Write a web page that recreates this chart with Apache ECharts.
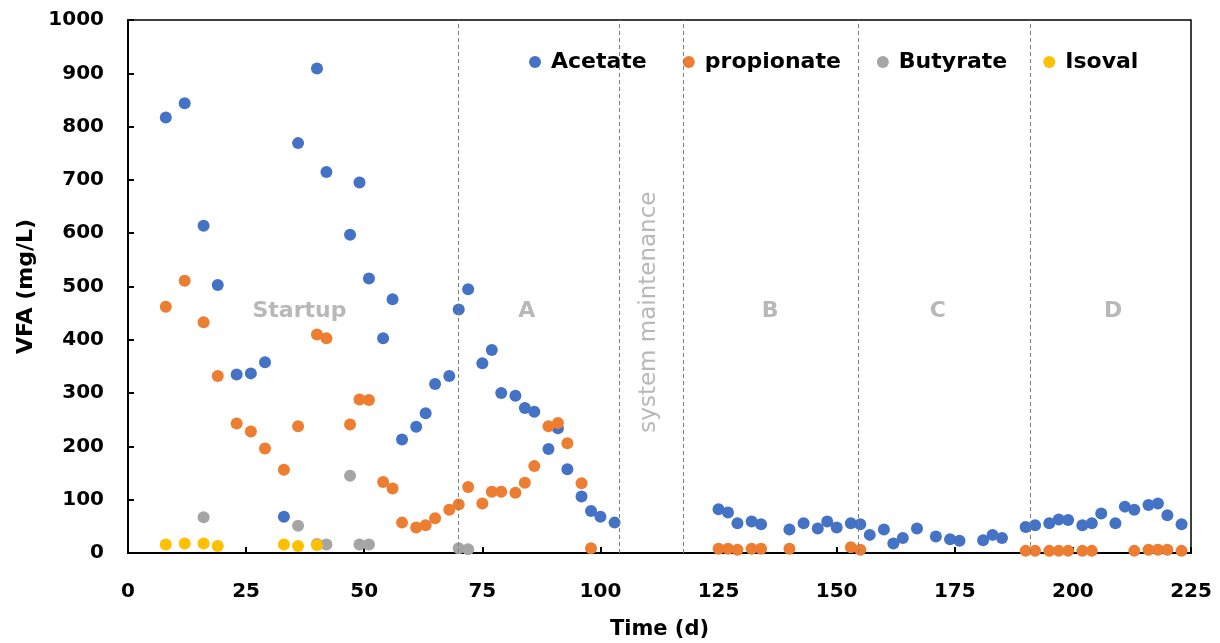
<!DOCTYPE html>
<html>
<head>
<meta charset="utf-8">
<title>VFA over time</title>
<script src="https://cdn.jsdelivr.net/npm/echarts@6/dist/echarts.min.js"></script>
<style>
  html, body { margin: 0; padding: 0; background: #ffffff; }
  #chart { width: 1220px; height: 643px; }
</style>
</head>
<body>
<div id="chart"></div>
<script>
// Sampling days (d) and concentrations (mg/L) per acid
const acetateDays = [8, 12, 16, 19, 23, 26, 29, 33, 36, 40, 42, 47, 49, 51, 54, 56, 58, 61, 63, 65, 68, 70, 72, 75, 77, 79, 82, 84, 86, 89, 91, 93, 96, 98, 100, 103,
  125, 127, 129, 132, 134, 140, 143, 146, 148, 150, 153, 155, 157, 160, 162, 164, 167, 171, 174, 176, 181, 183, 185,
  190, 192, 195, 197, 199, 202, 204, 206, 209, 211, 213, 216, 218, 220, 223];
const acetate = [817, 844, 614, 503, 335, 337, 358, 68, 769, 909, 715, 597, 695, 515, 403, 476, 213, 237, 262, 317, 332, 457, 495, 356, 381, 300, 295, 272, 265, 195, 234, 157, 106, 79, 68, 57,
  82, 76, 56, 59, 54, 44, 56, 46, 59, 48, 56, 54, 34, 44, 18, 28, 46, 31, 26, 23, 24, 34, 28,
  49, 52, 56, 63, 62, 52, 56, 74, 56, 87, 81, 90, 93, 71, 54];

const propionateDays = [8, 12, 16, 19, 23, 26, 29, 33, 36, 40, 42, 47, 49, 51, 54, 56, 58, 61, 63, 65, 68, 70, 72, 75, 77, 79, 82, 84, 86, 89, 91, 93, 96, 98,
  125, 127, 129, 132, 134, 140, 153, 155,
  190, 192, 195, 197, 199, 202, 204, 213, 216, 218, 220, 223];
const propionate = [462, 511, 433, 332, 243, 228, 196, 156, 238, 410, 403, 241, 288, 287, 133, 121, 57, 48, 52, 65, 81, 91, 124, 93, 115, 115, 113, 132, 163, 238, 244, 206, 131, 9,
  8, 8, 6, 8, 8, 8, 11, 6,
  4, 4, 4, 4, 4, 4, 4, 4, 6, 6, 6, 4];

const butyrateDays = [16, 36, 40, 42, 47, 49, 51, 70, 72];
const butyrate = [67, 51, 17, 16, 145, 16, 16, 9, 7];

const isovalDays = [8, 12, 16, 19, 33, 36, 40];
const isoval = [16, 18, 18, 13, 16, 13, 15];

// Operating phase boundaries (d)
const phaseBounds = [70, 104, 117.5, 154.5, 191];

// Phase captions and where they sit (day, mg/L)
const phaseNames = ['Startup', 'A', 'system maintenance', 'B', 'C', 'D'];
const phaseDay = [36.3, 84.4, 110.2, 135.9, 171.4, 208.5];
const phaseLevel = [454, 454, 452, 454, 454, 454];

const seriesColors = ['#4472C4', '#ED7D31', '#A5A5A5', '#FFC000'];
const boldFont = 'DejaVu Sans';

function pairs(xs, ys) {
  return xs.map((x, i) => [x, ys[i]]);
}

function dots(name, xs, ys, color) {
  return {
    name: name,
    type: 'scatter',
    data: pairs(xs, ys),
    symbol: 'circle',
    symbolSize: 12,
    itemStyle: { color: color, opacity: 1 },
    emphasis: { disabled: true },
    z: 3
  };
}

const chart = echarts.init(document.getElementById('chart'), null, { renderer: 'canvas' });

const phaseLabels = {
  name: 'phases',
  type: 'scatter',
  silent: true,
  symbolSize: 0,
  data: phaseNames.map((n, i) => ({
    value: [phaseDay[i], phaseLevel[i]],
    name: n,
    label: n === 'system maintenance'
      ? { rotate: 90, fontWeight: 'normal', fontSize: 23 }
      : {}
  })),
  label: {
    show: true,
    position: 'inside',
    formatter: p => p.name,
    color: '#a6a6a6',
    fontFamily: boldFont,
    fontWeight: 'bold',
    fontSize: 22
  },
  markLine: {
    silent: true,
    symbol: ['none', 'none'],
    label: { show: false },
    lineStyle: { color: '#7f7f7f', type: [4, 3], width: 1 },
    data: phaseBounds.map(d => ({ xAxis: d }))
  },
  z: 1
};

chart.setOption({
  backgroundColor: '#ffffff',
  animation: false,
  grid: {
    left: 128, right: 29, top: 20, bottom: 90,
    outerBoundsMode: 'none',
    show: true, borderColor: '#000', borderWidth: 1.5, backgroundColor: 'transparent'
  },
  legend: {
    data: ['Acetate', 'propionate', 'Butyrate', 'Isoval'],
    left: 524, top: 46,
    icon: 'circle',
    itemWidth: 22, itemHeight: 12, itemGap: 36,
    textStyle: { fontFamily: boldFont, fontWeight: 'bold', fontSize: 22, color: '#000' },
    selectedMode: false
  },
  xAxis: {
    type: 'value',
    min: 0, max: 225, interval: 25,
    name: 'Time (d)',
    nameLocation: 'middle',
    nameGap: 66,
    nameTextStyle: { fontFamily: boldFont, fontWeight: 'bold', fontSize: 21, color: '#000' },
    axisLine: { show: true, onZero: false, lineStyle: { color: '#000', width: 2 } },
    axisTick: { show: true, inside: true, length: 6, lineStyle: { color: '#000', width: 2 } },
    axisLabel: { margin: 29, fontFamily: boldFont, fontWeight: 'bold', fontSize: 20, color: '#000',
      formatter: v => String(v) },
    splitLine: { show: false }
  },
  yAxis: {
    type: 'value',
    min: 0, max: 1000, interval: 100,
    name: 'VFA (mg/L)',
    nameLocation: 'middle',
    nameGap: 88,
    nameTextStyle: { fontFamily: boldFont, fontWeight: 'bold', fontSize: 22, color: '#000' },
    axisLine: { show: true, lineStyle: { color: '#000', width: 2 } },
    axisTick: { show: true, inside: true, length: 6, lineStyle: { color: '#000', width: 2 } },
    axisLabel: { margin: 24, fontFamily: boldFont, fontWeight: 'bold', fontSize: 20, color: '#000',
      formatter: v => String(v) },
    splitLine: { show: false }
  },
  series: [
    phaseLabels,
    dots('Acetate', acetateDays, acetate, seriesColors[0]),
    dots('propionate', propionateDays, propionate, seriesColors[1]),
    dots('Butyrate', butyrateDays, butyrate, seriesColors[2]),
    dots('Isoval', isovalDays, isoval, seriesColors[3])
  ]
});
</script>
</body>
</html>
